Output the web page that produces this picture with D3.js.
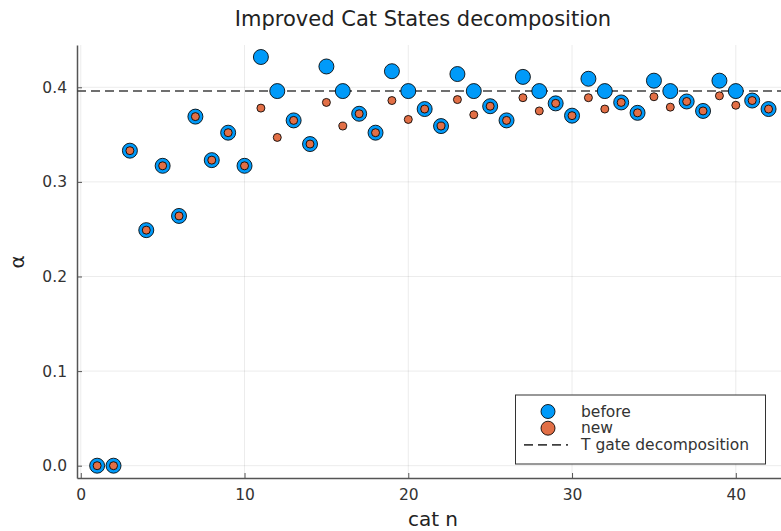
<!DOCTYPE html>
<html>
<head>
<meta charset="utf-8">
<script src="https://cdn.jsdelivr.net/npm/d3@7"></script>
<style>
  body { margin: 0; background: #fff; }
  text { font-family: "DejaVu Sans", sans-serif; }
</style>
</head>
<body>
<svg width="781" height="531"></svg>
<script>
    const width = 781;
    const height = 531;

    // cat n, 1..42
    const catN = d3.range(1, 43);
    const before = [
        0.000, 0.000, 0.333, 0.249, 0.317, 0.264, 0.369, 0.323, 0.352, 0.317,
        0.432, 0.396, 0.365, 0.340, 0.422, 0.396, 0.372, 0.352, 0.417, 0.396,
        0.377, 0.359, 0.414, 0.396, 0.380, 0.365, 0.411, 0.396, 0.383, 0.370,
        0.409, 0.396, 0.384, 0.373, 0.407, 0.396, 0.385, 0.375, 0.407, 0.396,
        0.386, 0.377
    ];
    const newer = [
        0.000, 0.000, 0.333, 0.249, 0.317, 0.264, 0.369, 0.323, 0.352, 0.317,
        0.378, 0.347, 0.365, 0.340, 0.384, 0.359, 0.372, 0.352, 0.386, 0.366,
        0.377, 0.359, 0.387, 0.371, 0.380, 0.365, 0.389, 0.375, 0.383, 0.370,
        0.389, 0.377, 0.384, 0.373, 0.390, 0.379, 0.385, 0.375, 0.391, 0.381,
        0.386, 0.377
    ];
    const tGate = 0.396;
    const xTicks = [0, 10, 20, 30, 40];
    const yTicks = [0.0, 0.1, 0.2, 0.3, 0.4];

    const blue = "#009af9";
    const orange = "#e26f46";

    const svg = d3.select("svg");

    const x = d3.scaleLinear().domain([-0.23, 43.23]).range([77, 788.7]);
    const y = d3.scaleLinear().domain([-0.013, 0.4447]).range([478, 45]);

    // grid
    const grid = svg.append("g").attr("stroke", "#000").attr("stroke-opacity", 0.1).attr("stroke-width", 0.8);
    grid.selectAll(".gx").data(xTicks).enter().append("line")
        .attr("x1", d => x(d)).attr("x2", d => x(d))
        .attr("y1", y.range()[0]).attr("y2", y.range()[1]);
    grid.selectAll(".gy").data(yTicks).enter().append("line")
        .attr("x1", x.range()[0]).attr("x2", x.range()[1])
        .attr("y1", d => y(d)).attr("y2", d => y(d));

    // axes (inward ticks)
    const xAxis = svg.append("g")
        .attr("transform", `translate(0,${y.range()[0]})`)
        .call(d3.axisBottom(x).tickValues(xTicks).tickFormat(d3.format("d")).tickSizeInner(-5).tickSizeOuter(0).tickPadding(11));
    const yAxis = svg.append("g")
        .attr("transform", `translate(${x.range()[0]},0)`)
        .call(d3.axisLeft(y).tickValues(yTicks).tickFormat(d3.format(".1f")).tickSizeInner(-5).tickSizeOuter(0).tickPadding(10));
    [xAxis, yAxis].forEach(a => {
        a.select(".domain").attr("stroke", "#555").attr("stroke-width", 1.5);
        a.selectAll(".tick line").attr("stroke", "#555").attr("stroke-width", 1);
        a.selectAll(".tick text").attr("fill", "#333").style("font-size", "15.5px")
            .style("font-family", "DejaVu Sans, sans-serif");
    });

    // T gate line
    svg.append("line")
        .attr("x1", x.range()[0]).attr("x2", x.range()[1])
        .attr("y1", y(tGate)).attr("y2", y(tGate))
        .attr("stroke", "#404040").attr("stroke-width", 1.6)
        .attr("stroke-dasharray", "9,5");

    // points
    svg.append("g").selectAll("circle").data(catN).enter().append("circle")
        .attr("cx", d => x(d)).attr("cy", (d, i) => y(before[i]))
        .attr("r", 7.5).attr("fill", blue)
        .attr("stroke", "#000").attr("stroke-opacity", 0.85).attr("stroke-width", 1);
    svg.append("g").selectAll("circle").data(catN).enter().append("circle")
        .attr("cx", d => x(d)).attr("cy", (d, i) => y(newer[i]))
        .attr("r", 4).attr("fill", orange)
        .attr("stroke", "#000").attr("stroke-opacity", 0.85).attr("stroke-width", 1);

    // title and labels
    svg.append("text").attr("x", 423).attr("y", 26).attr("text-anchor", "middle")
        .style("font-size", "21px").attr("fill", "#222").text("Improved Cat States decomposition");
    svg.append("text").attr("x", 433).attr("y", 526).attr("text-anchor", "middle")
        .style("font-size", "20px").attr("fill", "#222").text("cat n");
    svg.append("text").attr("transform", "translate(24,262) rotate(-90)").attr("text-anchor", "middle")
        .style("font-size", "20px").attr("fill", "#222").text("α");

    // legend
    const lg = svg.append("g");
    lg.append("rect").attr("x", 515.5).attr("y", 395).attr("width", 250).attr("height", 69)
        .attr("fill", "#fff").attr("stroke", "#333").attr("stroke-width", 1);
    const items = [
        { label: "before", type: "big" },
        { label: "new", type: "small" },
        { label: "T gate decomposition", type: "line" }
    ];
    items.forEach((it, i) => {
        const base = 416.5 + i * 16.7;
        const cy = base - 5;
        if (it.type === "line") {
            lg.append("line").attr("x1", 524).attr("x2", 568).attr("y1", cy).attr("y2", cy)
                .attr("stroke", "#404040").attr("stroke-width", 1.6).attr("stroke-dasharray", "9,5");
        } else {
            lg.append("circle").attr("cx", 548).attr("cy", cy).attr("r", 7)
                .attr("fill", it.type === "big" ? blue : orange)
                .attr("stroke", "#000").attr("stroke-opacity", 0.85);
        }
        lg.append("text").attr("x", 581).attr("y", base)
            .style("font-size", "15.5px").attr("fill", "#333").text(it.label);
    });
</script>
</body>
</html>
